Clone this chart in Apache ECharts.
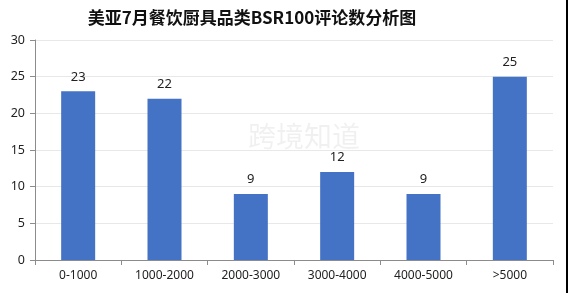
<!DOCTYPE html>
<html>
<head>
<meta charset="utf-8">
<script src="https://cdn.jsdelivr.net/npm/echarts@6/dist/echarts.min.js"></script>
<style>
  html, body { margin: 0; padding: 0; background: #fff; }
  #chart { width: 568px; height: 293px; }
</style>
</head>
<body>
<div id="chart"></div>
<script>
var categories = ['0-1000', '1000-2000', '2000-3000', '3000-4000', '4000-5000', '>5000']
var reviewCounts = [23, 22, 9, 12, 9, 25]

var chart = echarts.init(document.getElementById('chart'))
chart.setOption({
  animation: false,
  title: {
    text: '美亚7月餐饮厨具品类BSR100评论数分析图',
    left: 247,
    textAlign: 'center',
    top: 4,
    textStyle: {
      fontFamily: 'Noto Sans CJK SC',
      fontSize: 17,
      fontWeight: 'bold',
      color: '#111'
    }
  },
  grid: {
    left: 35,
    right: 15,
    top: 40,
    bottom: 33
  },
  graphic: [
    {
      type: 'text',
      left: 248,
      top: 122,
      silent: true,
      style: {
        text: '跨境知道',
        fontFamily: 'Noto Sans CJK SC',
        fontSize: 28,
        fill: 'rgba(0,0,0,0.06)'
      }
    },
    {
      type: 'rect',
      right: 0,
      top: 0,
      shape: { width: 2, height: 293 },
      style: { fill: '#000' }
    }
  ],
  xAxis: {
    type: 'category',
    data: categories,
    axisLine: { lineStyle: { color: '#8c8c8c', width: 1 } },
    axisTick: { show: true, length: 5, lineStyle: { color: '#8c8c8c' } },
    axisLabel: {
      color: '#222',
      fontSize: 12,
      margin: 10,
      fontFamily: 'Noto Sans'
    },
    splitLine: { show: false }
  },
  yAxis: {
    type: 'value',
    min: 0,
    max: 30,
    interval: 5,
    axisLine: { show: true, lineStyle: { color: '#8c8c8c', width: 1 } },
    axisTick: { show: true, length: 5, lineStyle: { color: '#8c8c8c' } },
    axisLabel: {
      color: '#222',
      fontSize: 12.5,
      margin: 10,
      fontFamily: 'Noto Sans'
    },
    splitLine: { lineStyle: { color: '#e8e8e8', width: 1 } }
  },
  series: [
    {
      type: 'bar',
      data: reviewCounts,
      barWidth: 34,
      itemStyle: { color: '#4472C4' },
      label: {
        show: true,
        position: 'top',
        distance: 8,
        color: '#222',
        fontSize: 13,
        fontFamily: 'Noto Sans'
      }
    }
  ]
})
</script>
</body>
</html>
